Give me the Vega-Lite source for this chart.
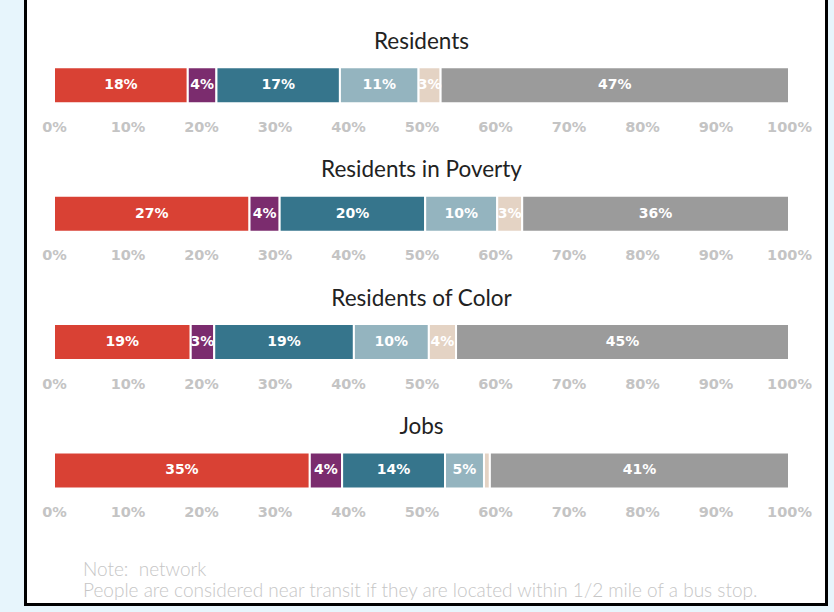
{
  "$schema": "https://vega.github.io/schema/vega-lite/v6.json",
  "autosize": {"type": "none"},
  "width": 801,
  "height": 614.5,
  "padding": {"left": 25.5, "top": -10, "right": 7.5, "bottom": 7.5},
  "background": "#e7f5fc",
  "title": {
    "text": ["Note:\u00a0 network", "People are considered near transit if they are located within 1/2 mile of a bus stop."],
    "orient": "bottom",
    "anchor": "start",
    "frame": "group",
    "offset": -44,
    "dx": 57.5,
    "font": "Lato",
    "fontWeight": 300,
    "fontSize": 19,
    "color": "#c6c6c6",
    "lineHeight": 21
  },
  "data": {
    "values": [
      {"group": "Residents", "cat": "High frequency", "k": 1, "value": 0.182},
      {"group": "Residents", "cat": "High frequency peak", "k": 2, "value": 0.039},
      {"group": "Residents", "cat": "Medium frequency", "k": 3, "value": 0.168},
      {"group": "Residents", "cat": "Low frequency", "k": 4, "value": 0.107},
      {"group": "Residents", "cat": "Limited service", "k": 5, "value": 0.030},
      {"group": "Residents", "cat": "Not near transit", "k": 6, "value": 0.474},
      {"group": "Residents in Poverty", "cat": "High frequency", "k": 1, "value": 0.266},
      {"group": "Residents in Poverty", "cat": "High frequency peak", "k": 2, "value": 0.041},
      {"group": "Residents in Poverty", "cat": "Medium frequency", "k": 3, "value": 0.198},
      {"group": "Residents in Poverty", "cat": "Low frequency", "k": 4, "value": 0.098},
      {"group": "Residents in Poverty", "cat": "Limited service", "k": 5, "value": 0.034},
      {"group": "Residents in Poverty", "cat": "Not near transit", "k": 6, "value": 0.363},
      {"group": "Residents of Color", "cat": "High frequency", "k": 1, "value": 0.186},
      {"group": "Residents of Color", "cat": "High frequency peak", "k": 2, "value": 0.032},
      {"group": "Residents of Color", "cat": "Medium frequency", "k": 3, "value": 0.190},
      {"group": "Residents of Color", "cat": "Low frequency", "k": 4, "value": 0.102},
      {"group": "Residents of Color", "cat": "Limited service", "k": 5, "value": 0.037},
      {"group": "Residents of Color", "cat": "Not near transit", "k": 6, "value": 0.453},
      {"group": "Jobs", "cat": "High frequency", "k": 1, "value": 0.348},
      {"group": "Jobs", "cat": "High frequency peak", "k": 2, "value": 0.044},
      {"group": "Jobs", "cat": "Medium frequency", "k": 3, "value": 0.140},
      {"group": "Jobs", "cat": "Low frequency", "k": 4, "value": 0.053},
      {"group": "Jobs", "cat": "Limited service", "k": 5, "value": 0.008},
      {"group": "Jobs", "cat": "Not near transit", "k": 6, "value": 0.407}
    ]
  },
  "transform": [
    {"stack": "value", "groupby": ["group"], "sort": [{"field": "k", "order": "ascending"}], "as": ["v0", "v1"]},
    {"calculate": "(datum.v0 + datum.v1) / 2", "as": "mid"}
  ],
  "resolve": {"axis": {"x": "independent"}},
  "layer": [
    {
      "transform": [{"filter": "datum.group === 'Residents'"}],
      "mark": {"type": "bar", "stroke": "white", "strokeWidth": 2},
      "encoding": {
        "x": {"field": "v0", "type": "quantitative", "scale": {"domain": [0, 1], "range": [28.5, 763.5]}, "axis": {"orient": "bottom", "offset": -501.2, "title": null, "values": [0, 0.1, 0.2, 0.3, 0.4, 0.5, 0.6, 0.7, 0.8, 0.9, 1], "format": ".0%"}},
        "x2": {"field": "v1"},
        "y": {"field": "group", "type": "nominal", "scale": {"domain": ["Residents", "Residents in Poverty", "Residents of Color", "Jobs"], "range": [77.3, 498.5], "paddingInner": 0.7196, "paddingOuter": 0}, "axis": null},
        "color": {"field": "cat", "type": "nominal", "scale": {"domain": ["High frequency", "High frequency peak", "Medium frequency", "Low frequency", "Limited service", "Not near transit"], "range": ["#d94134", "#7b2c6e", "#36758c", "#94b4bf", "#e4d3c4", "#9b9b9b"]}, "legend": null}
      }
    },
    {
      "transform": [{"filter": "datum.group === 'Residents in Poverty'"}],
      "mark": {"type": "bar", "stroke": "white", "strokeWidth": 2},
      "encoding": {
        "x": {"field": "v0", "type": "quantitative", "axis": {"orient": "bottom", "offset": -372.8, "title": null, "values": [0, 0.1, 0.2, 0.3, 0.4, 0.5, 0.6, 0.7, 0.8, 0.9, 1], "format": ".0%"}},
        "x2": {"field": "v1"},
        "y": {"field": "group", "type": "nominal", "axis": null},
        "color": {"field": "cat", "type": "nominal", "legend": null}
      }
    },
    {
      "transform": [{"filter": "datum.group === 'Residents of Color'"}],
      "mark": {"type": "bar", "stroke": "white", "strokeWidth": 2},
      "encoding": {
        "x": {"field": "v0", "type": "quantitative", "axis": {"orient": "bottom", "offset": -244.4, "title": null, "values": [0, 0.1, 0.2, 0.3, 0.4, 0.5, 0.6, 0.7, 0.8, 0.9, 1], "format": ".0%"}},
        "x2": {"field": "v1"},
        "y": {"field": "group", "type": "nominal", "axis": null},
        "color": {"field": "cat", "type": "nominal", "legend": null}
      }
    },
    {
      "transform": [{"filter": "datum.group === 'Jobs'"}],
      "mark": {"type": "bar", "stroke": "white", "strokeWidth": 2},
      "encoding": {
        "x": {"field": "v0", "type": "quantitative", "axis": {"orient": "bottom", "offset": -116.0, "title": null, "values": [0, 0.1, 0.2, 0.3, 0.4, 0.5, 0.6, 0.7, 0.8, 0.9, 1], "format": ".0%"}},
        "x2": {"field": "v1"},
        "y": {"field": "group", "type": "nominal", "axis": null},
        "color": {"field": "cat", "type": "nominal", "legend": null}
      }
    },
    {
      "transform": [{"filter": "datum.value >= 0.02"}],
      "mark": {"type": "text", "color": "white", "font": "DejaVu Sans", "fontWeight": "bold", "fontSize": 14, "baseline": "middle"},
      "encoding": {
        "x": {"field": "mid", "type": "quantitative", "axis": null},
        "y": {"field": "group", "type": "nominal", "axis": null},
        "text": {"field": "value", "type": "quantitative", "format": ".0%"}
      }
    },
    {
      "transform": [{"filter": "datum.k === 1"}],
      "mark": {"type": "text", "font": "Lato", "fontSize": 22.5, "baseline": "alphabetic", "yOffset": -36.5, "color": "#222222"},
      "encoding": {
        "x": {"datum": 0.5, "type": "quantitative", "axis": null},
        "y": {"field": "group", "type": "nominal", "axis": null},
        "text": {"field": "group"}
      }
    }
  ],
  "config": {
    "view": {"fill": "white", "stroke": "black", "strokeWidth": 3},
    "axis": {"domain": false, "ticks": false, "grid": false, "labelFont": "DejaVu Sans", "labelFontWeight": "bold", "labelFontSize": 14.5, "labelColor": "#c4c4c4", "labelPadding": 17, "labelFlush": false, "labelOverlap": false}
  }
}
